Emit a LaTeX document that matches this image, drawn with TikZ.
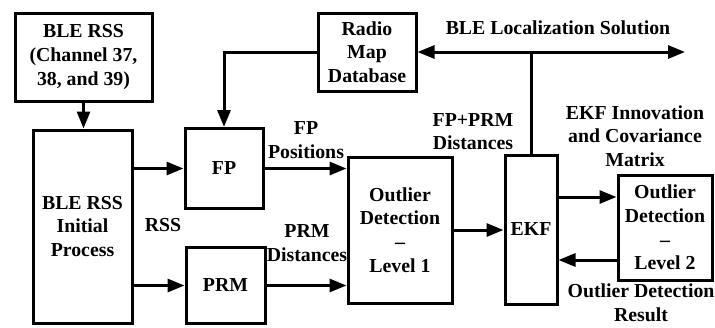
\documentclass[tikz,border=0pt]{standalone}
\usepackage{fontspec}
\setmainfont{Liberation Serif}
\usetikzlibrary{arrows.meta}
\begin{document}
\begin{tikzpicture}[x=1pt,y=-1pt,
  every node/.style={font=\fontsize{19.8}{23.7}\selectfont\bfseries, align=center, inner sep=0pt},
  blk/.style={draw, line width=3pt, minimum width=#1},
  arr/.style={line width=3pt, -{Triangle[length=17pt,width=13pt]}},
  ln/.style={line width=3pt}]
\useasboundingbox (0,0) rectangle (715,327);
\node[blk=137pt, minimum height=88pt] (rss) at (83.5,57) {BLE RSS\\(Channel 37,\\38, and 39)};
\node[blk=98pt, minimum height=78pt] (radio) at (367,52) {Radio\\Map\\Database};
\node[blk=99pt, minimum height=193pt] (init) at (82.5,226.5) {BLE RSS\\Initial\\Process};
\node[blk=78pt, minimum height=80pt] (fp) at (224,168.5) {FP};
\node[blk=79pt, minimum height=76pt] (prm) at (225.5,285.5) {PRM};
\node[blk=104pt, minimum height=146pt] (od1) at (400,230) {Outlier\\Detection\\–\\Level 1};
\node[blk=52pt, minimum height=149pt] (ekf) at (531,229.5) {EKF};
\node[blk=94pt, minimum height=105pt] (od2) at (665,227.5) {Outlier\\Detection\\–\\Level 2};

\node (lsol) at (558,28) {BLE Localization Solution};
\node (lfpprm) at (473,131.5) {FP+PRM\\Distances};
\node (lekf) at (635,136) {EKF Innovation\\and Covariance\\Matrix};
\node (lfp) at (306,140) {FP\\Positions};
\node (lrss) at (163,225) {RSS};
\node (lprm) at (307,243) {PRM\\Distances};
\node (lres) at (641,303) {Outlier Detection\\Result};

\coordinate (j) at (ekf.north |- radio.east);
\coordinate (out) at (685,52);

\draw[arr] (rss.south) -- (rss.south |- init.north);
\draw[arr] (radio.west) -| (fp.north);
\draw[arr] (init.east |- fp.west) -- (fp.west);
\draw[arr] (init.east |- prm.west) -- (prm.west);
\draw[arr] (fp.east) -- (fp.east -| od1.west);
\draw[arr] (prm.east) -- (prm.east -| od1.west);
\draw[arr] (od1.east) -- (od1.east -| ekf.west);
\draw[arr] (ekf.east |- 0,197) -- (od2.west |- 0,197);
\draw[arr] (od2.west |- 0,260) -- (ekf.east |- 0,260);
\draw[ln] (ekf.north) -- (j);
\draw[arr] (j) -- (radio.east);
\draw[arr] (j) -- (out);
\end{tikzpicture}
\end{document}
